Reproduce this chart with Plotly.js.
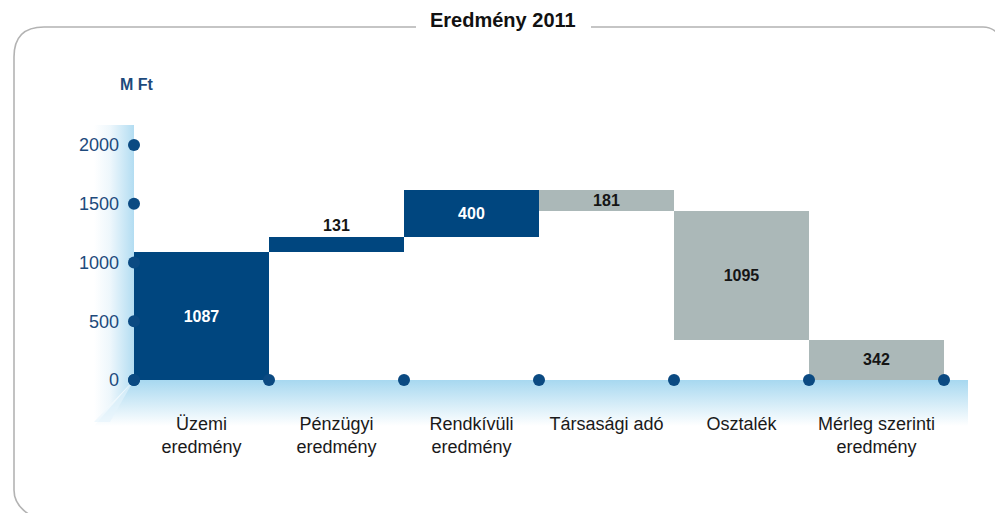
<!DOCTYPE html>
<html>
<head>
<meta charset="utf-8">
<script src="https://cdn.plot.ly/plotly-3.0.1.min.js"></script>
<style>
  html, body { margin: 0; padding: 0; background: #fff; }
  #chart { width: 995px; height: 513px; }
</style>
</head>
<body>
<div id="chart"></div>
<script>
  // Eredmény 2011 – waterfall, M Ft
  const categories = ["Üzemi<br>eredmény", "Pénzügyi<br>eredmény", "Rendkívüli<br>eredmény",
                      "Társasági adó", "Osztalék", "Mérleg szerinti<br>eredmény"];
  const changes = [1087, 131, 400, -181, -1095, 342];
  const isTotal = [false, false, false, false, false, true];
  const yTicks = [0, 500, 1000, 1500, 2000];

  const W = 995, H = 513;
  const M = { l: 134, r: 51, t: 125, b: 133 };
  const PW = W - M.l - M.r, PH = H - M.t - M.b;
  // convert figure pixels to paper units (for decoration only)
  const px = x => (x - M.l) / PW;
  const py = y => (H - M.b - y) / PH;

  const BLUE = "#00467f";
  const GREY = "#abb8b8";
  const DOT = "#0b4a82";

  // waterfall bases
  let running = 0;
  const bases = [], heights = [];
  changes.forEach((v, i) => {
    if (isTotal[i]) { bases.push(0); heights.push(v); return; }
    if (v >= 0) { bases.push(running); heights.push(v); running += v; }
    else { running += v; bases.push(running); heights.push(-v); }
  });
  const xs = categories.map((_, i) => i + 0.5);
  const colors = changes.map((v, i) => (v > 0 && !isTotal[i]) ? BLUE : GREY);
  const textColors = colors.map(c => c === BLUE ? "#ffffff" : "#151515");
  const textPos = heights.map(h => h < 150 ? "outside" : "inside");

  const bars = {
    type: "bar",
    x: xs,
    y: heights,
    base: bases,
    width: 1,
    marker: { color: colors, line: { width: 0 } },
    text: changes.map(v => String(Math.abs(v))),
    textposition: textPos,
    insidetextanchor: "middle",
    constraintext: "none",
    textfont: { family: "Liberation Sans, Arial, sans-serif", size: 16, color: textColors, weight: "bold" },
    outsidetextfont: { family: "Liberation Sans, Arial, sans-serif", size: 16, color: "#151515", weight: "bold" },
    cliponaxis: false,
    hoverinfo: "skip"
  };

  const boundaries = categories.map((_, i) => i).concat([categories.length]);
  const axisDots = {
    type: "scatter",
    mode: "markers",
    x: boundaries.concat(yTicks.map(() => 0)),
    y: boundaries.map(() => 0).concat(yTicks),
    marker: { size: 12, color: DOT },
    cliponaxis: false,
    hoverinfo: "skip"
  };

  // wall, floor and frame drawn as one svg backdrop
  const svg = `<svg xmlns="http://www.w3.org/2000/svg" width="${W}" height="${H}" viewBox="0 0 ${W} ${H}">
    <defs>
      <linearGradient id="wall" x1="0" y1="0" x2="1" y2="0">
        <stop offset="0" stop-color="#ffffff"/>
        <stop offset="0.4" stop-color="#eef7fc"/>
        <stop offset="1" stop-color="#b3ddf2"/>
      </linearGradient>
      <linearGradient id="floor" x1="0" y1="0" x2="0" y2="1">
        <stop offset="0" stop-color="#a7d8f0"/>
        <stop offset="1" stop-color="#ffffff"/>
      </linearGradient>
    </defs>
    <polygon points="94,125 134,125 134,380 94,422" fill="url(#wall)"/>
    <polygon points="134,380 968,380 968,426 94,426" fill="url(#floor)"/>
    <polygon points="134,380 94,422 110,422" fill="#e4f3fb" opacity="0.6"/>
    <path d="M 416 27 H 44 Q 14 27 14 57 V 490 Q 14 505 30 515" fill="none" stroke="#b3b3b3" stroke-width="1.6"/>
    <path d="M 591 27 H 983 Q 993 27 1000 36" fill="none" stroke="#b3b3b3" stroke-width="1.6"/>
  </svg>`;

  const layout = {
    width: W,
    height: H,
    margin: M,
    paper_bgcolor: "white",
    plot_bgcolor: "rgba(0,0,0,0)",
    showlegend: false,
    bargap: 0,
    font: { family: "Liberation Sans, Arial, sans-serif" },
    xaxis: {
      range: [0, categories.length],
      tickvals: xs,
      ticktext: categories,
      ticks: "",
      ticklabelstandoff: 31,
      showgrid: false,
      zeroline: false,
      showline: false,
      fixedrange: true,
      tickfont: { family: "Liberation Sans, Arial, sans-serif", size: 18, color: "#1a1a1a" }
    },
    yaxis: {
      range: [0, PH / 0.1175],
      tickvals: yTicks,
      ticks: "",
      ticklabelstandoff: 14,
      showgrid: false,
      zeroline: false,
      showline: false,
      fixedrange: true,
      tickfont: { family: "Liberation Sans, Arial, sans-serif", size: 18, color: "#1d4a7c" }
    },
    images: [{
      source: "data:image/svg+xml;charset=utf-8," + encodeURIComponent(svg),
      xref: "paper", yref: "paper",
      x: px(0), y: py(0),
      sizex: W / PW, sizey: H / PH,
      xanchor: "left", yanchor: "top",
      sizing: "stretch",
      layer: "below"
    }],
    annotations: [
      {
        text: "<b>Eredmény 2011</b>",
        xref: "paper", yref: "paper",
        x: px(503), y: py(20),
        xanchor: "center", yanchor: "middle",
        showarrow: false,
        font: { size: 20, color: "#111111" }
      },
      {
        text: "<b>M Ft</b>",
        xref: "paper", yref: "paper",
        x: px(137), y: py(85),
        xanchor: "center", yanchor: "middle",
        showarrow: false,
        font: { size: 16, color: "#1d4a7c" }
      }
    ]
  };

  Plotly.newPlot("chart", [bars, axisDots], layout, { displayModeBar: false, staticPlot: true });
</script>
</body>
</html>
